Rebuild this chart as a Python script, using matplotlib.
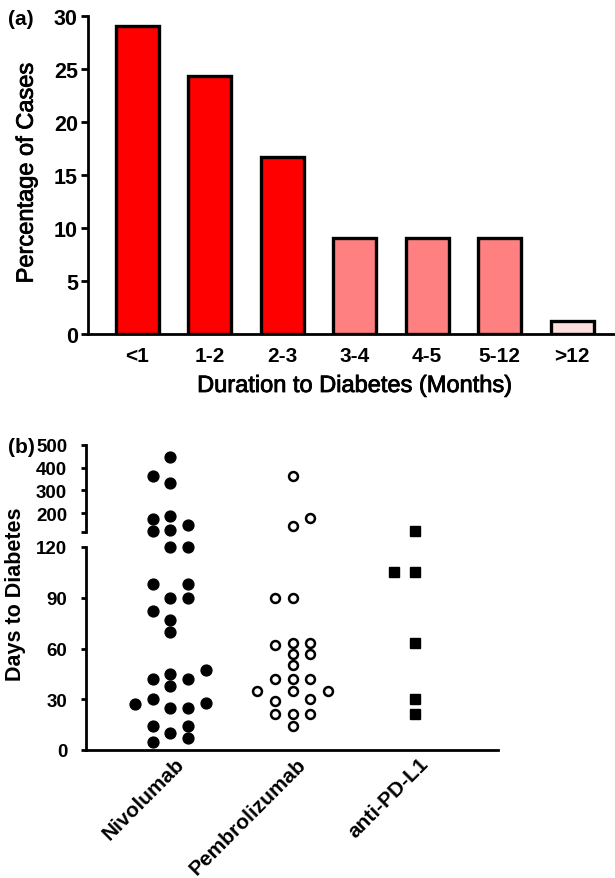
import matplotlib
matplotlib.use("Agg")
import matplotlib.pyplot as plt
import matplotlib.patheffects as pe
import matplotlib.transforms as mtransforms
import numpy as np

plt.rcParams["font.family"] = ["Liberation Sans", "DejaVu Sans"]

# (a) 发病时间分布（%）
months = ["<1", "1-2", "2-3", "3-4", "4-5", "5-12", ">12"]
pct_cases = [29.0, 24.3, 16.7, 9.0, 9.0, 9.0, 1.2]

# (b) 各药物到糖尿病的天数
drugs = ["Nivolumab", "Pembrolizumab", "anti-PD-L1"]
nivo_days = [445, 362, 334, 187, 174, 148, 129, 122,
             120, 120, 98, 98, 90, 90, 82, 77, 70, 47, 45, 42, 42, 38,
             30, 28, 27, 25, 25, 14, 14, 10, 7, 5]
pembro_days = [362, 178, 143,
               90, 90, 62, 63, 63, 57, 57, 50, 42, 42, 42, 35, 35, 35,
               29, 30, 21, 21, 21, 14]
pdl1_days = [124, 105, 105, 63, 30, 21]

# 散点横向排布（列位置）
nivo_slot = [0, -1, 0, 0, -1, 1, 0, -1,
             0, 1, -1, 1, 0, 1, -1, 0, 0, 2, 0, -1, 1, 0,
             -1, 2, -2, 0, 1, -1, 1, 0, 1, -1]
pembro_slot = [0, 1, 0,
               -1, 0, -1, 0, 1, 0, 1, 0, -1, 0, 1, -2, 0, 2,
               -1, 1, -1, 0, 1, 0]
pdl1_slot = [0, -1, 0, 0, 0, 0]

bar_colors = ["#FF0000"] * 3 + ["#FF8080"] * 3 + ["#FFDEDE"]

W, H = 615, 879
fig = plt.figure(figsize=(W / 100, H / 100), dpi=100)
thick = [pe.withStroke(linewidth=0.6, foreground="black")]


def px_axes(left, top, right, bottom):
    return fig.add_axes([left / W, 1 - bottom / H, (right - left) / W, (bottom - top) / H])


def style_axis(ax, fs, pad, tick_len):
    for s in ["top", "right"]:
        ax.spines[s].set_visible(False)
    for s in ["left", "bottom"]:
        ax.spines[s].set_linewidth(2.0)
    ax.tick_params(axis="y", direction="out", length=tick_len, width=2.0,
                   labelsize=fs, pad=pad)
    ax.tick_params(axis="x", length=0)
    for lab in ax.get_yticklabels():
        lab.set_fontweight("bold")


# ---- (a) ----
ax1 = px_axes(88.3, 16.7, 615, 334.7)
x = np.arange(len(months))
ax1.bar(x, pct_cases, width=0.595, color=bar_colors, edgecolor="black", linewidth=2.4)
ax1.set_xlim(-0.675, 6.59)
ax1.set_ylim(0, 30)
ax1.set_yticks([0, 5, 10, 15, 20, 25, 30])
ax1.set_xticks(x)
ax1.set_xticklabels(months, fontsize=15, fontweight="bold")
style_axis(ax1, 15.5, 2.5, 5)
ax1.tick_params(axis="x", pad=9)
fig.text(355 / W, 1 - 393 / H, "Duration to Diabetes (Months)", fontsize=17,
         ha="center", va="baseline", path_effects=thick)
fig.text(26.7 / W, 1 - 174 / H, "Percentage of Cases", fontsize=17,
         rotation=90, ha="center", va="center", path_effects=thick)
fig.text(8 / W, 1 - 10 / H, "(a)", fontsize=15, fontweight="bold", ha="left", va="top")

# ---- (b) 断轴 ----
ax_lo = px_axes(86, 548, 498, 751)
ax_hi = px_axes(86, 445.7, 498, 532.7)

step_c = 0.1455
step_s = 0.17
groups = [
    (nivo_days, nivo_slot, step_c, dict(marker="o", ms=7.8, color="black", mec="black")),
    (pembro_days, pembro_slot, step_c, dict(marker="o", ms=6.4, mfc="white", mec="black", mew=1.8)),
    (pdl1_days, pdl1_slot, step_s, dict(marker="s", ms=7.4, color="black", mec="black")),
]
for i, (vals, slots, step, kw) in enumerate(groups):
    vals = np.array(vals, dtype=float)
    xs = i + np.array(slots) * step
    hi = vals > 120
    ax_hi.plot(xs[hi], vals[hi], ls="none", clip_on=False, zorder=5, **kw)
    ax_lo.plot(xs[~hi], vals[~hi], ls="none", clip_on=False, zorder=5, **kw)

for ax in (ax_lo, ax_hi):
    ax.set_xlim(-0.69, 2.68)

ax_lo.set_ylim(0, 120)
ax_lo.set_yticks([0, 30, 60, 90, 120])
ax_lo.set_xticks(range(len(drugs)))
ax_lo.set_xticklabels(drugs, rotation=45, ha="right", rotation_mode="anchor",
                      fontsize=15, fontweight="bold")
style_axis(ax_lo, 13.5, 10, 3.5)
ax_lo.tick_params(axis="x", pad=10)
shift = mtransforms.ScaledTranslation(4 / 100, 10 / 100, fig.dpi_scale_trans)
for lab in ax_lo.get_xticklabels():
    lab.set_transform(lab.get_transform() + shift)

ax_hi.set_ylim(120, 500)
ax_hi.set_yticks([120, 200, 300, 400, 500])
ax_hi.set_yticklabels(["", "200", "300", "400", "500"])
ax_hi.set_xticks([])
style_axis(ax_hi, 13.5, 10, 3.5)
ax_hi.spines["bottom"].set_visible(False)
ax_hi.patch.set_alpha(0)

fig.text(16 / W, 1 - 594 / H, "Days to Diabetes", fontsize=15.5, fontweight="bold",
         rotation=90, ha="center", va="center")
fig.text(8 / W, 1 - 438 / H, "(b)", fontsize=15, fontweight="bold", ha="left", va="top")

fig.savefig("out.png", dpi=100)
